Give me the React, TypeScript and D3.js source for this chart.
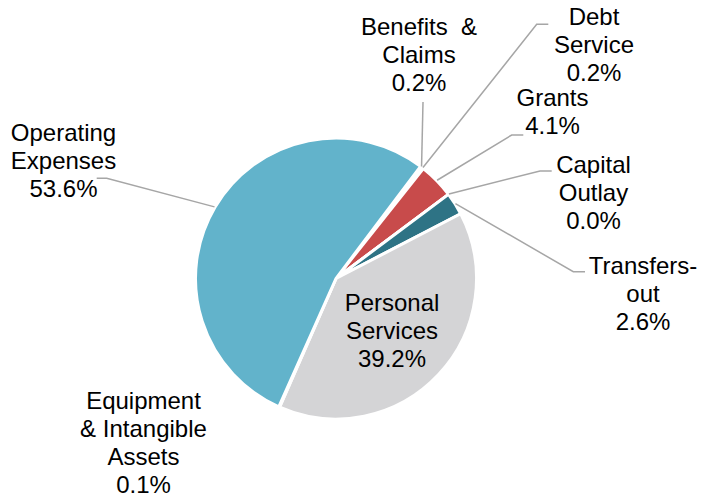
import React from "react";
import * as d3 from "d3";

const categories = [
  "Benefits & Claims",
  "Debt Service",
  "Grants",
  "Capital Outlay",
  "Transfers-out",
  "Personal Services",
  "Equipment & Intangible Assets",
  "Operating Expenses",
];
const values = [0.2, 0.2, 4.1, 0.0, 2.6, 39.2, 0.1, 53.6];
const labelLines = [
  ["Benefits  &", "Claims", "0.2%"],
  ["Debt", "Service", "0.2%"],
  ["Grants", "4.1%"],
  ["Capital", "Outlay", "0.0%"],
  ["Transfers-", "out", "2.6%"],
  ["Personal", "Services", "39.2%"],
  ["Equipment", "& Intangible", "Assets", "0.1%"],
  ["Operating", "Expenses", "53.6%"],
];

// styling / layout (not data)
const colors = ["#8FA9C4", "#7F7F7F", "#C84B4B", "#F0B95A", "#2E7385", "#D4D4D6", "#9BBB59", "#62B3CB"];
const labelPos: [number, number][] = [
  [419, 35],
  [594, 25],
  [552.5, 106],
  [593.5, 172.5],
  [643, 273.5],
  [392, 310.5],
  [143.5, 408.5],
  [63.5, 140.5],
];
// elbow and end points of leader lines (null = none)
const leaderPts: ([number, number][] | null)[] = [
  [[423, 102]],
  [[536.7, 24.3], [548.3, 24.3]],
  [[511.7, 135], [523.3, 135]],
  [[540, 171], [551.7, 171]],
  [[573.3, 271.7], [585, 271.7]],
  null,
  null,
  [[106.7, 178.3], [96.7, 178.3]],
];

const W = 703;
const H = 500;
const cx = 336;
const cy = 278.5;
const R = 140.5;
const startDeg = 37;
const lineH = 28;

export default function App() {
  const start = (startDeg * Math.PI) / 180;
  const pie = d3
    .pie<number>()
    .sort(null)
    .value((d) => d)
    .startAngle(start)
    .endAngle(start + 2 * Math.PI);
  const arcs = pie(values);
  const arc = d3.arc<d3.PieArcDatum<number>>().innerRadius(0).outerRadius(R);

  return (
    <svg
      width={W}
      height={H}
      style={{ position: "absolute", left: 0, top: 0, background: "#fff" }}
      fontFamily="'Liberation Sans', Arial, sans-serif"
    >
      <g transform={`translate(${cx},${cy})`}>
        {arcs.map((a, i) => (
          <path key={categories[i]} d={arc(a) || ""} fill={colors[i]} stroke="#fff" strokeWidth={3} strokeLinejoin="miter" />
        ))}
      </g>
      {arcs.map((a, i) => {
        const pts = leaderPts[i];
        if (!pts) return null;
        const mid = (a.startAngle + a.endAngle) / 2;
        const r0 = R + 0.5;
        const p0: [number, number] = [cx + r0 * Math.sin(mid), cy - r0 * Math.cos(mid)];
        const line = d3.line()([p0, ...pts]);
        return <path key={"l" + i} d={line || ""} fill="none" stroke="#A6A6A6" strokeWidth={1.5} />;
      })}
      {labelLines.map((lines, i) => (
        <text key={"t" + i} x={labelPos[i][0]} y={labelPos[i][1]} fontSize={24} fill="#000" textAnchor="middle" style={{ whiteSpace: "pre" }}>
          {lines.map((ln, j) => (
            <tspan key={j} x={labelPos[i][0]} y={labelPos[i][1] + j * lineH}>
              {ln}
            </tspan>
          ))}
        </text>
      ))}
    </svg>
  );
}
